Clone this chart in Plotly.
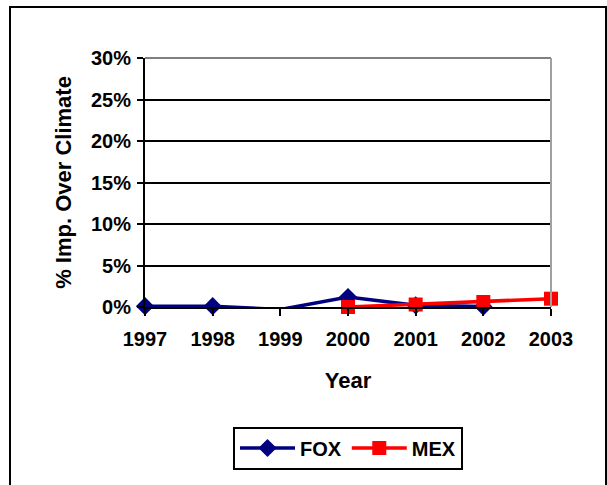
import plotly.graph_objects as go

years = ["1997", "1998", "1999", "2000", "2001", "2002", "2003"]
fox_years = ["1997", "1998", "1999", "2000", "2001", "2002"]
fox_vals = [0.1, 0.1, -0.3, 1.2, 0.2, 0.05]
mex_years = ["2000", "2001", "2002", "2003"]
mex_vals = [0.0, 0.3, 0.6, 1.0]
y_ticks = [0, 5, 10, 15, 20, 25, 30]
y_labels = ["0%", "5%", "10%", "15%", "20%", "25%", "30%"]

FONT = "Liberation Sans"

fig = go.Figure()
fig.add_trace(go.Scatter(
    x=fox_years, y=fox_vals, name="<b>FOX</b>", mode="lines+markers",
    line=dict(color="#000080", width=3.5),
    marker=dict(symbol="diamond", size=14, color="#000080"),
    cliponaxis=False,
))
fig.add_trace(go.Scatter(
    x=mex_years, y=mex_vals, name="<b>MEX</b>", mode="lines+markers",
    line=dict(color="#FF0000", width=3.5),
    marker=dict(symbol="square", size=14, color="#FF0000"),
    cliponaxis=False,
))

L, R, T, B = 145, 56, 58, 178
W, H = 607, 485
pw, ph = W - L - R, H - T - B

fig.update_layout(
    width=W, height=H,
    margin=dict(l=L, r=R, t=T, b=B),
    paper_bgcolor="white", plot_bgcolor="white",
    font=dict(family=FONT, color="black", size=20),
    showlegend=True,
    legend=dict(
        orientation="h", x=0.5, xanchor="center", y=-0.48, yanchor="top",
        bordercolor="black", borderwidth=2, font=dict(size=20, family=FONT),
        itemwidth=55,
    ),
    xaxis=dict(
        type="category", categoryarray=years, range=[0, 6],
        showline=True, linecolor="black", linewidth=2,
        ticks="outside", ticklen=7, tickcolor="black", tickwidth=1.5,
        ticklabelstandoff=6,
        tickfont=dict(size=20, family=FONT),
        tickprefix="<b>", ticksuffix="</b>",
        showgrid=False, zeroline=False,
        title=dict(text="<b>Year</b>", font=dict(size=22), standoff=24),
    ),
    yaxis=dict(
        range=[0, 30], tickvals=y_ticks, ticktext=["<b>%s</b>" % t for t in y_labels],
        showline=True, linecolor="black", linewidth=2,
        ticks="outside", ticklen=6, tickcolor="black", tickwidth=1.5,
        ticklabelstandoff=2,
        tickfont=dict(size=20, family=FONT),
        showgrid=True, gridcolor="black", gridwidth=1.5, zeroline=False,
        title=dict(text="<b>% Imp. Over Climate</b>", font=dict(size=22), standoff=13),
    ),
    shapes=[
        dict(type="line", xref="paper", yref="paper", x0=0, x1=1, y0=1, y1=1,
             line=dict(color="#808080", width=2), layer="above"),
        dict(type="line", xref="paper", yref="paper", x0=1, x1=1, y0=0, y1=1,
             line=dict(color="#A0A0A0", width=2), layer="above"),
        dict(type="rect", xref="paper", yref="paper",
             x0=(10 - L) / pw, x1=(606 - L) / pw,
             y0=-(495 - (H - B)) / ph, y1=1 + (T - 7) / ph,
             line=dict(color="black", width=2), layer="below"),
    ],
)

fig.write_html(
    "out.html",
    config={"displayModeBar": False},
    post_script="document.body.style.margin='0';document.body.style.overflow='hidden';",
)
